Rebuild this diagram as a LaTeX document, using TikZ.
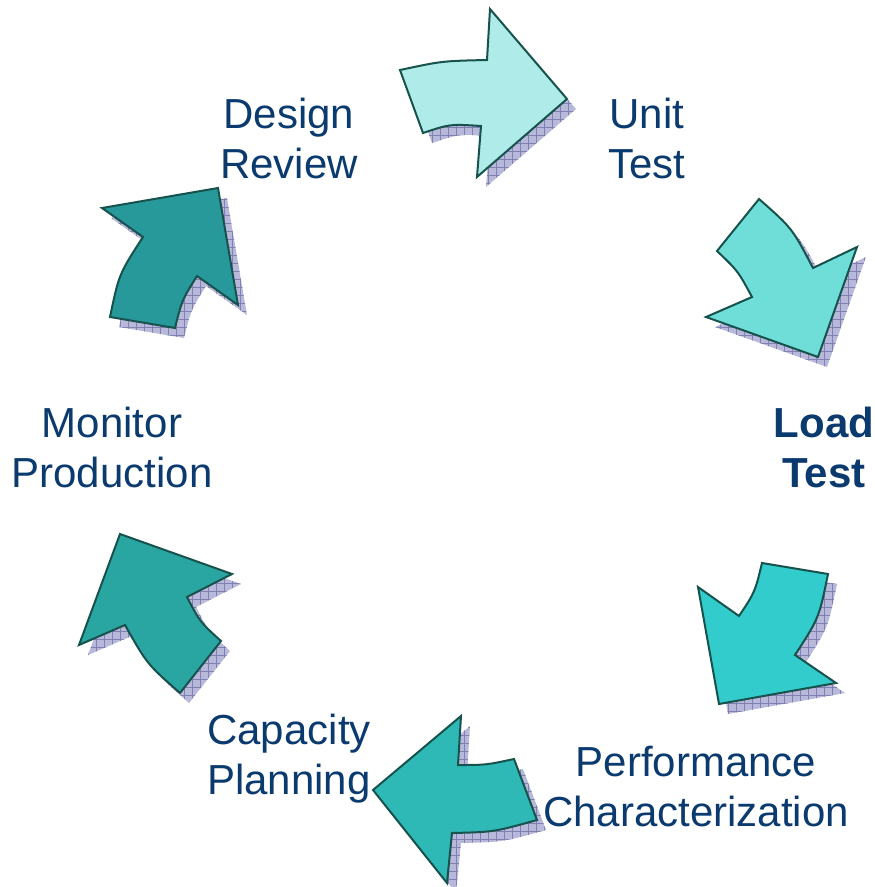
\documentclass[tikz,border=0pt]{standalone}
\usepackage{fontspec}
\setmainfont{Liberation Sans}
\usetikzlibrary{patterns.meta}
\definecolor{txt}{HTML}{0B3A6E}
\definecolor{edge}{HTML}{17524D}
\definecolor{shd}{HTML}{B8B8DA}
\definecolor{shdline}{HTML}{8080B2}
\definecolor{cA}{HTML}{AFEBE8}
\definecolor{cB}{HTML}{6FDED9}
\definecolor{cC}{HTML}{33CCCC}
\definecolor{cD}{HTML}{2EB8B6}
\definecolor{cE}{HTML}{2AA6A2}
\definecolor{cF}{HTML}{27999A}
\tikzset{
  shadowbase/.style={fill=shd, shift={(9,10)}},
  shadowgrid/.style={pattern={Hatch[angle=0,distance=8pt,line width=0.7pt]}, pattern color=shdline, shift={(9,10)}},
  blockarrow/.style={draw=edge, line width=2pt, line join=miter},
  lbl/.style={text=txt, align=center, font=\fontsize{42}{50}\selectfont, inner sep=0pt, anchor=base},
  pA/.style={insert path={(400,70) .. controls (442,61) .. (487,60) -- (490,9) -- (567,99) -- (477,177) -- (481,126) .. controls (450,124) .. (423,133) -- cycle}},
  pB/.style={insert path={(759,199) .. controls (792,228) .. (813,268) -- (857,247) -- (818,357) -- (706,317) -- (752,297) .. controls (738,271) .. (717,251) -- cycle}},
  pC/.style={insert path={(762,563) -- (828,574) .. controls (819,618) .. (795,655) -- (836,683) -- (719,704) -- (698,587) -- (739,616) .. controls (755,592) .. (762,563) -- cycle}},
  pD/.style={insert path={(461,716) -- (458,765) .. controls (486,765) .. (514,759) -- (537,820) .. controls (494,832) .. (452,833) -- (447,883) -- (373,790) -- cycle}},
  pE/.style={insert path={(120,534) -- (232,574) -- (187,597) .. controls (200,622) .. (221,641) -- (180,693) .. controls (147,664) .. (125,625) -- (79,645) -- cycle}},
  pF/.style={insert path={(102,208) -- (218,188) -- (238,305) -- (197,276) .. controls (182,300) .. (175,328) -- (110,317) .. controls (119,274) .. (143,237) -- cycle}},
}
\begin{document}
\begin{tikzpicture}[x=1pt,y=-1pt]
\useasboundingbox (0,0) rectangle (875,887);
% shadows
\foreach \p in {pA,pB,pC,pD,pE,pF}{
  \path[shadowbase,\p];
  \path[shadowgrid,\p];
}
% arrows
\path[blockarrow, fill=cA, pA];
\path[blockarrow, fill=cB, pB];
\path[blockarrow, fill=cC, pC];
\path[blockarrow, fill=cD, pD];
\path[blockarrow, fill=cE, pE];
\path[blockarrow, fill=cF, pF];
% labels (anchor base = baseline of the last line)
\node[lbl] (design) at (289,178) {Design\\Review};
\node[lbl] (unit) at (647,178) {Unit\\Test};
\node[lbl, font=\fontsize{42}{50}\selectfont\bfseries] (load) at (824,487) {Load\\Test};
\node[lbl] (monitor) at (112,487) {Monitor\\Production};
\node[lbl] (perf) at (696,826) {Performance\\Characterization};
\node[lbl] (cap) at (289,794) {Capacity\\Planning};
\end{tikzpicture}
\end{document}
